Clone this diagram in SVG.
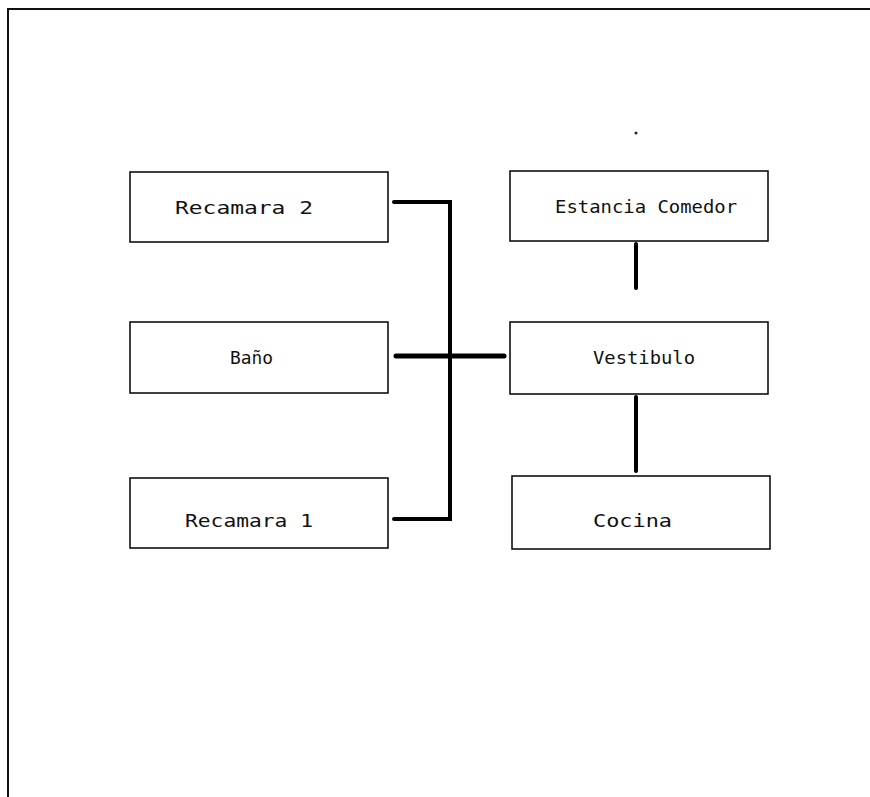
<svg xmlns="http://www.w3.org/2000/svg" width="870" height="797" viewBox="0 0 870 797">
<style>
.box{fill:#fff;stroke:#111;stroke-width:1.6}
.lbl{font-family:"DejaVu Sans Mono","Liberation Mono",monospace;font-size:18px;fill:#111}
.conn{fill:none;stroke:#000;stroke-linecap:round;stroke-linejoin:miter}
.frame{fill:none;stroke:#111;stroke-width:2}
</style>
<rect width="870" height="797" fill="#fff"/>
<path class="frame" d="M8,797 V9 H870"/>
<circle cx="636" cy="133" r="1.5" fill="#222"/>
<g id="recamara2"><rect class="box" x="130" y="172" width="258" height="70"/><text class="lbl" x="175" y="214" textLength="138" lengthAdjust="spacingAndGlyphs">Recamara 2</text></g>
<g id="bano"><rect class="box" x="130" y="322" width="258" height="71"/><text class="lbl" x="230" y="364" textLength="43" lengthAdjust="spacingAndGlyphs">Baño</text></g>
<g id="recamara1"><rect class="box" x="130" y="478" width="258" height="70"/><text class="lbl" x="185" y="527" textLength="128" lengthAdjust="spacingAndGlyphs">Recamara 1</text></g>
<g id="estancia"><rect class="box" x="510" y="171" width="258" height="70"/><text class="lbl" x="555" y="213" textLength="182" lengthAdjust="spacingAndGlyphs">Estancia Comedor</text></g>
<g id="vestibulo"><rect class="box" x="510" y="322" width="258" height="72"/><text class="lbl" x="593" y="364" textLength="102" lengthAdjust="spacingAndGlyphs">Vestibulo</text></g>
<g id="cocina"><rect class="box" x="512" y="476" width="258" height="73"/><text class="lbl" x="593" y="527" textLength="79" lengthAdjust="spacingAndGlyphs">Cocina</text></g>
<g id="connectors">
<path class="conn" stroke-width="4" d="M394,202 H450 V519 H394"/>
<path class="conn" stroke-width="5" d="M396,356 H504"/>
<path class="conn" stroke-width="4" d="M636,244 V288"/>
<path class="conn" stroke-width="4" d="M636,397 V471"/>
</g>
</svg>
